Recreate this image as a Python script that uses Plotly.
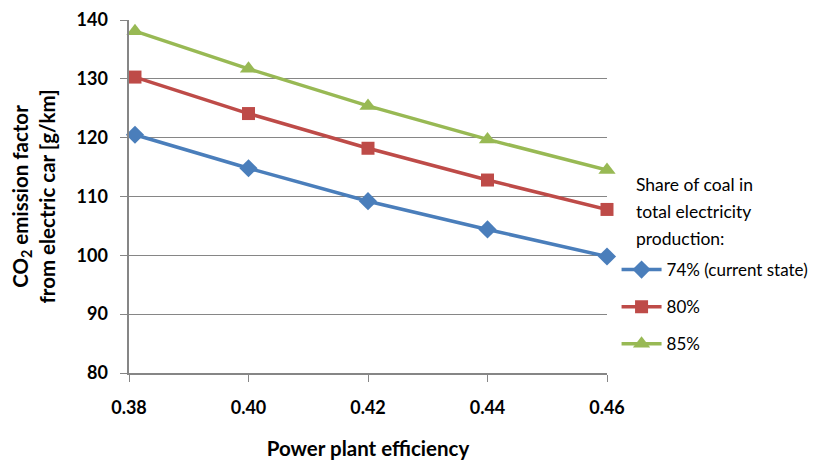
import plotly.graph_objects as go

efficiency = [0.381, 0.40, 0.42, 0.44, 0.46]
share_74 = [120.5, 114.8, 109.2, 104.4, 99.8]
share_80 = [130.3, 124.1, 118.2, 112.8, 107.8]
share_85 = [138.1, 131.7, 125.4, 119.7, 114.5]
series_names = ["74% (current state)", "80%", "85%"]
legend_title_lines = ["Share of coal in", "total electricity", "production:"]
x_ticks = [0.38, 0.40, 0.42, 0.44, 0.46]
x_tick_labels = ["0.38", "0.40", "0.42", "0.44", "0.46"]
y_ticks = [80, 90, 100, 110, 120, 130, 140]
y_tick_labels = ["80", "90", "100", "110", "120", "130", "140"]
colors = ["#4a7ebb", "#be4b48", "#98b954"]
symbols = ["diamond", "square", "triangle-up"]
marker_sizes = [14, 13, 15]

fig = go.Figure()
for i, (name, vals) in enumerate(zip(series_names, [share_74, share_80, share_85])):
    fig.add_trace(go.Scatter(
        x=efficiency, y=vals, name=name, mode="lines+markers",
        line=dict(color=colors[i], width=3.5),
        marker=dict(symbol=symbols[i], size=marker_sizes[i], color=colors[i]),
        legendgroup=str(i), cliponaxis=False,
    ))

font_family = "Lato, 'Open Sans', sans-serif"
PLOT_TOP, PLOT_H = 20, 353
for j, line in enumerate(legend_title_lines):
    fig.add_annotation(
        text=line, xref="paper", yref="paper", x=1.057, xanchor="left",
        y=1 - (184 + 27 * j - PLOT_TOP) / PLOT_H, yanchor="middle", showarrow=False,
        font=dict(size=17.5, family=font_family, color="#000"),
    )

fig.update_layout(
    width=824, height=453,
    margin=dict(l=121, r=225, t=12, b=88, autoexpand=False),
    plot_bgcolor="white", paper_bgcolor="white",
    font=dict(family=font_family, color="#000000"),
    showlegend=True,
    legend=dict(
        x=1.02, xanchor="left", y=1 - (252 - PLOT_TOP) / PLOT_H, yanchor="top",
        font=dict(size=17, family=font_family),
        tracegroupgap=12,
        itemwidth=40,
    ),
    xaxis=dict(
        range=[0.38, 0.46], tickvals=x_ticks, ticktext=x_tick_labels,
        automargin=False,
        showgrid=False, showline=True, linecolor="#868686", linewidth=1.5,
        ticks="outside", ticklen=7, tickcolor="#868686",
        ticklabelstandoff=11,
        tickfont=dict(size=18, family=font_family, weight="bold"),
        title=dict(text="<b>Power plant efficiency</b>", font=dict(size=20.5), standoff=24),
        zeroline=False,
    ),
    yaxis=dict(
        range=[80, 140], tickvals=y_ticks, ticktext=[t + "  " for t in y_tick_labels],
        automargin=False,
        showgrid=True, gridcolor="#868686", gridwidth=1,
        showline=True, linecolor="#868686", linewidth=1.5,
        ticks="outside", ticklen=7, tickcolor="#868686",
        tickfont=dict(size=18, family=font_family, weight="bold"),
        title=dict(text="<b>CO<sub>2</sub> emission factor<br>from electric car [g/km]</b>", font=dict(size=20.5), standoff=16),
        zeroline=False,
    ),
)

fig.write_html("out.html")
